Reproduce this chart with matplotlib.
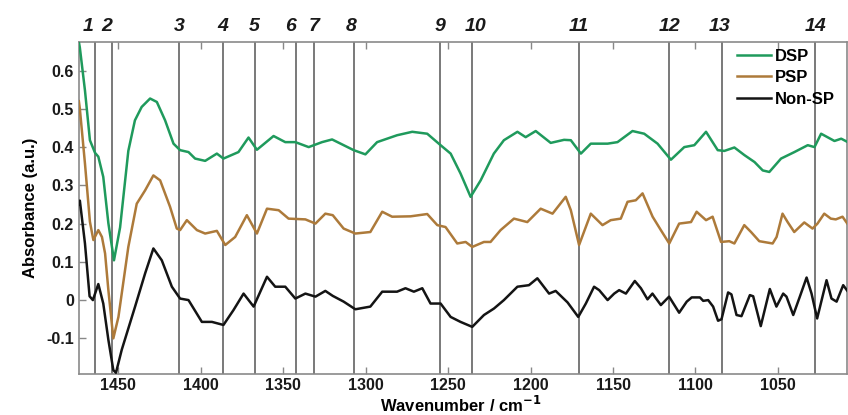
import matplotlib
matplotlib.use("Agg")
import matplotlib.pyplot as plt

plt.rcParams['font.family'] = ['Liberation Sans', 'DejaVu Sans']
plt.rcParams['font.weight'] = 'bold'

# spectra (wavenumber in cm-1, absorbance in a.u.)
dsp_wn = [1474, 1473.4, 1470.3, 1467.3, 1464.2, 1462.2, 1459.2, 1456.1, 1452.7, 1449, 1444, 1440,
          1435.9, 1430.8, 1426.7, 1421.7, 1416.6, 1412.6, 1407.5, 1403.5, 1397.4, 1390.3, 1386.3,
          1377.2, 1371.1, 1366, 1355.9, 1348.8, 1342.7, 1334.6, 1326.5, 1320.4, 1307.3, 1300.2,
          1293.1, 1281, 1271.8, 1262.7, 1254.6, 1248.5, 1242.5, 1236.4, 1230.3, 1222.3, 1216.2,
          1208, 1203, 1196.9, 1187.8, 1179.7, 1175.6, 1169.5, 1163.5, 1153.3, 1147.3, 1138.2,
          1131.1, 1123, 1114.9, 1106.8, 1100.7, 1093.6, 1086.5, 1082.5, 1076.4, 1070.3, 1064.2,
          1059.2, 1055.2, 1048.1, 1040, 1031.9, 1027.8, 1023.8, 1015.7, 1011.6, 1007.6]
dsp_ab = [0.675, 0.66, 0.548, 0.418, 0.385, 0.375, 0.322, 0.201, 0.104, 0.19, 0.39, 0.47,
          0.505, 0.527, 0.518, 0.47, 0.409, 0.392, 0.387, 0.37, 0.364, 0.383, 0.37,
          0.387, 0.425, 0.393, 0.429, 0.413, 0.413, 0.40, 0.413, 0.42, 0.392, 0.381,
          0.413, 0.431, 0.44, 0.435, 0.405, 0.383, 0.331, 0.27, 0.313, 0.383, 0.418,
          0.44, 0.426, 0.442, 0.411, 0.419, 0.418, 0.383, 0.409, 0.409, 0.413, 0.442,
          0.435, 0.409, 0.367, 0.40, 0.405, 0.44, 0.392, 0.39, 0.399, 0.379, 0.361,
          0.339, 0.335, 0.37, 0.387, 0.405, 0.40, 0.435, 0.416, 0.422, 0.413]

psp_wn = [1474, 1473.4, 1470.3, 1467.3, 1465.2, 1462.2, 1460, 1458.1, 1456.1, 1453.1, 1450, 1444,
          1438.9, 1433.8, 1428.8, 1424.7, 1418.7, 1414.6, 1412.6, 1408.5, 1402.4, 1397.4, 1390.3,
          1385.2, 1379.2, 1372.1, 1366, 1359.9, 1352.8, 1346.8, 1336.6, 1330.5, 1324.5, 1320,
          1313.4, 1306.3, 1297.2, 1290, 1284, 1272.8, 1262.7, 1256.6, 1251.6, 1244.5, 1239.4,
          1235.4, 1228.3, 1224.3, 1218.2, 1210.1, 1202, 1193.9, 1186.7, 1178.7, 1175.6, 1170.6,
          1163.5, 1156.4, 1151.4, 1145.3, 1141.2, 1136.2, 1132.1, 1126, 1121, 1115.9, 1109.9,
          1102.7, 1099.3, 1093.6, 1089.6, 1084.5, 1079.5, 1076.4, 1070.4, 1066.3, 1061.3, 1053.2,
          1050.8, 1047.2, 1044.1, 1040.1, 1034, 1029, 1026, 1021.9, 1017.9, 1014.9, 1010.8, 1007.9]
psp_ab = [0.52, 0.50, 0.357, 0.205, 0.157, 0.183, 0.165, 0.122, 0.026, -0.10, -0.044, 0.139,
          0.252, 0.287, 0.326, 0.313, 0.244, 0.187, 0.183, 0.209, 0.183, 0.174, 0.181,
          0.144, 0.165, 0.222, 0.174, 0.239, 0.235, 0.213, 0.211, 0.20, 0.226, 0.222,
          0.187, 0.174, 0.178, 0.231, 0.218, 0.219, 0.225, 0.196, 0.191, 0.148, 0.152,
          0.139, 0.152, 0.152, 0.183, 0.213, 0.204, 0.239, 0.226, 0.27, 0.235, 0.144,
          0.226, 0.196, 0.209, 0.213, 0.257, 0.261, 0.279, 0.218, 0.183, 0.148, 0.20,
          0.204, 0.231, 0.209, 0.218, 0.152, 0.154, 0.148, 0.196, 0.178, 0.154, 0.148,
          0.165, 0.226, 0.204, 0.178, 0.203, 0.187, 0.20, 0.226, 0.213, 0.211, 0.218, 0.20]

non_wn = [1474, 1473.4, 1470.3, 1467.5, 1465.5, 1462.2, 1459.2, 1456.1, 1453.1, 1451.5, 1448,
          1439.9, 1433.8, 1428.8, 1423.7, 1417.6, 1412.6, 1407.5, 1399.4, 1393.3, 1386.3, 1380.2,
          1374.1, 1368, 1359.9, 1354.9, 1348.8, 1342.7, 1336.6, 1330.5, 1324.5, 1320, 1313.4,
          1306.3, 1297.2, 1290, 1281, 1275.9, 1270.8, 1265.7, 1260.7, 1254.6, 1248.5, 1242.5,
          1235.4, 1228.3, 1222.2, 1216.2, 1208, 1201, 1195.9, 1188.8, 1184.8, 1177.6, 1171.1,
          1166.5, 1161.5, 1158.4, 1153.3, 1149.3, 1146.3, 1142.2, 1136.8, 1133.1, 1129.1, 1126.1,
          1121, 1116, 1109.9, 1105.3, 1102.3, 1097.3, 1095.3, 1092.3, 1089.3, 1086.3, 1084.2,
          1080.2, 1078.2, 1075.1, 1072.1, 1067, 1065, 1060.4, 1054.9, 1050.9, 1046.8, 1044.8,
          1040.7, 1036.7, 1032.6, 1029.6, 1026.2, 1020.5, 1017.5, 1014.4, 1010.4, 1007.5]
non_ab = [0.25, 0.26, 0.148, 0.01, 0.0, 0.042, -0.009, -0.104, -0.183, -0.19, -0.13,
          -0.017, 0.07, 0.135, 0.104, 0.035, 0.004, 0.0, -0.057, -0.057, -0.065, -0.026,
          0.017, -0.017, 0.061, 0.035, 0.035, 0.004, 0.017, 0.009, 0.024, 0.011, -0.004,
          -0.024, -0.017, 0.022, 0.022, 0.031, 0.022, 0.031, -0.009, -0.009, -0.044, -0.057,
          -0.07, -0.039, -0.022, 0.0, 0.035, 0.039, 0.057, 0.017, 0.024, -0.006, -0.044,
          -0.009, 0.035, 0.026, 0.0, 0.017, 0.026, 0.017, 0.05, 0.031, 0.002, 0.017,
          -0.013, 0.009, -0.033, -0.004, 0.007, 0.007, -0.002, 0.0, -0.017, -0.054, -0.05,
          0.02, 0.015, -0.039, -0.042, 0.013, 0.01, -0.068, 0.029, -0.017, 0.017, 0.009,
          -0.039, 0.009, 0.059, 0.017, -0.048, 0.052, 0.004, -0.004, 0.039, 0.022]

# marked band positions and their numbers
band_wn = [1464.2, 1453.7, 1413.2, 1386.6, 1367.4, 1342.3, 1331.6, 1306.9,
           1255.2, 1235.8, 1170.9, 1115.9, 1083.9, 1027.2]
band_lbl = ['1', '2', '3', '4', '5', '6', '7', '8', '9', '10', '11', '12', '13', '14']
band_shift = {'1': -5, '2': -4, '6': -4, '8': -2, '10': 3, '13': -2}  # points, to keep labels apart

xticks = [1450, 1400, 1350, 1300, 1250, 1200, 1150, 1100, 1050]
yticks = [-0.1, 0, 0.1, 0.2, 0.3, 0.4, 0.5, 0.6]
ytick_lbl = ['-0.1', '0', '0.1', '0.2', '0.3', '0.4', '0.5', '0.6']

fig = plt.figure(figsize=(8.48, 4.15), dpi=100)
ax = fig.add_axes([0.093, 0.099, 0.906, 0.8])

for w in band_wn:
    ax.axvline(w, color='#6e6e6e', lw=1.3, zorder=1)

ax.plot(dsp_wn, dsp_ab, color='#1f9a5c', lw=1.8, label='DSP', zorder=3)
ax.plot(psp_wn, psp_ab, color='#ad7a3a', lw=1.8, label='PSP', zorder=3)
ax.plot(non_wn, non_ab, color='#141414', lw=1.8, label='Non-SP', zorder=3)

for w, t in zip(band_wn, band_lbl):
    ax.annotate(t, xy=(w, 1), xycoords=('data', 'axes fraction'),
                xytext=(band_shift.get(t, 0), 5), textcoords='offset points',
                ha='center', va='bottom', fontsize=14, fontweight='bold', fontstyle='italic',
                color='#1a1a1a')

ax.set_xlim(1474, 1008)
ax.set_ylim(-0.193, 0.675)
ax.set_xticks(xticks)
ax.set_yticks(yticks)
ax.set_yticklabels(ytick_lbl)
ax.tick_params(axis='both', direction='in', length=5, width=1, color='#888888',
               labelsize=11.5, labelcolor='#1a1a1a', top=True, right=False)
ax.tick_params(axis='x', pad=3)
for lab in ax.get_xticklabels() + ax.get_yticklabels():
    lab.set_fontweight('bold')
for s in ax.spines.values():
    s.set_color('#8a8a8a')
    s.set_linewidth(1.2)

ax.set_xlabel('Wavenumber / cm$^{\\mathbf{-1}}$', fontsize=12, fontweight='bold')
ax.xaxis.set_label_coords(0.497, -0.064)
ax.set_ylabel('Absorbance (a.u.)', fontsize=12, fontweight='bold', labelpad=6)

leg = ax.legend(loc='upper left', bbox_to_anchor=(0.857, 0.98), frameon=False, fontsize=12,
                handlelength=2.0, handletextpad=0.25, labelspacing=0.4, borderpad=0,
                borderaxespad=0)
for t in leg.get_texts():
    t.set_fontweight('bold')

fig.savefig('out.png', dpi=100)
